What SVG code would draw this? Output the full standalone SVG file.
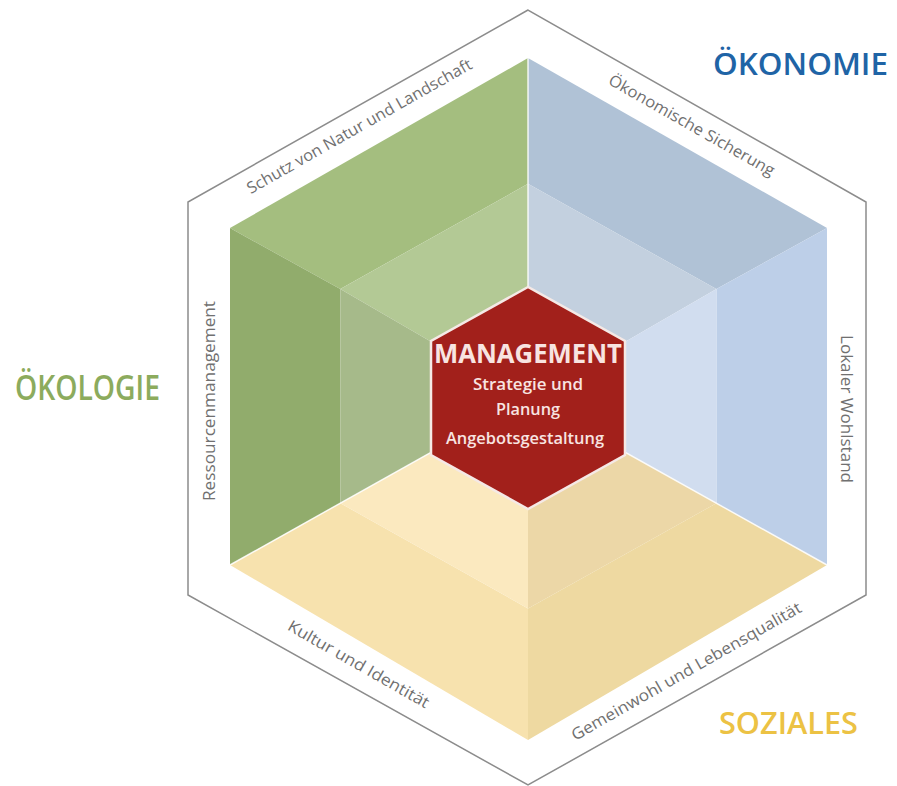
<svg xmlns="http://www.w3.org/2000/svg" width="897" height="786" viewBox="0 0 897 786">
<style>
.edge{font-family:"Open Sans","Noto Sans","Liberation Sans",sans-serif;font-size:16px;fill:#707070;text-anchor:middle}
.big{font-family:"Open Sans","Noto Sans","Liberation Sans",sans-serif;font-weight:600;font-size:35px}
.mg{font-family:"Open Sans","Noto Sans","Liberation Sans",sans-serif;fill:#f8e4e1;text-anchor:middle;font-weight:600}
.sep{stroke:#ffffff;stroke-width:1.5;fill:none;opacity:0.85}
</style>
<rect width="897" height="786" fill="#ffffff"/>
<g id="frame">
  <polygon points="528,10 188,202 188,595 528,785 866,595 866,202" fill="#ffffff" stroke="#8c8c8c" stroke-width="1.5"/>
</g>
<g id="oekologie-face">
  <polygon points="528,58 230,228 340.3,289 528,183.8" fill="#a4be7f"/>
  <polygon points="230,228 230,565 340.3,503.2 340.3,289" fill="#91ac6c"/>
  <polygon points="528,183.8 340.3,289 528,398" fill="#b3c995"/>
  <polygon points="340.3,289 340.3,503.2 528,398" fill="#a6ba8a"/>
</g>
<g id="oekonomie-face">
  <polygon points="528,58 528,183.8 716.4,289 827,228" fill="#b0c2d6"/>
  <polygon points="827,228 716.4,289 716.4,503.2 827,565" fill="#bdcfe8"/>
  <polygon points="528,183.8 528,398 716.4,289" fill="#c3d0df"/>
  <polygon points="716.4,289 528,398 716.4,503.2" fill="#d1ddef"/>
</g>
<g id="soziales-face">
  <polygon points="230,565 528,740 528,608.4 340.3,503.2" fill="#f7e2ae"/>
  <polygon points="528,398 340.3,503.2 528,608.4" fill="#fbe9bf"/>
  <polygon points="528,398 528,608.4 716.4,503.2" fill="#ecd7a7"/>
  <polygon points="528,608.4 528,740 827,565 716.4,503.2" fill="#eed9a1"/>
</g>
<g id="separators">
  <line class="sep" x1="528" y1="58" x2="528" y2="398"/>
  <line class="sep" x1="230" y1="565" x2="528" y2="398"/>
  <line class="sep" x1="827" y1="565" x2="528" y2="398"/>
</g>
<g id="edge-labels">
  <text class="edge" transform="translate(362,131) rotate(-29.6)" textLength="256" lengthAdjust="spacingAndGlyphs">Schutz von Natur und Landschaft</text>
  <text class="edge" transform="translate(689,130) rotate(29.6)" textLength="188" lengthAdjust="spacingAndGlyphs">Ökonomische Sicherung</text>
  <text class="edge" transform="translate(841,409) rotate(90)" textLength="148" lengthAdjust="spacingAndGlyphs">Lokaler Wohlstand</text>
  <text class="edge" transform="translate(215,401) rotate(-90)" textLength="200" lengthAdjust="spacingAndGlyphs">Ressourcenmanagement</text>
  <text class="edge" transform="translate(356,669) rotate(29.7)" textLength="160" lengthAdjust="spacingAndGlyphs">Kultur und Identität</text>
  <text class="edge" transform="translate(689,676) rotate(-29.7)" textLength="262" lengthAdjust="spacingAndGlyphs">Gemeinwohl und Lebensqualität</text>
</g>
<g id="management">
  <polygon points="528,287 431,341 431,455 528,509 625,455 625,341" fill="#a2201b" stroke="#f5e9e6" stroke-width="2.5"/>
  <text class="mg" x="528" y="363" font-size="26" font-weight="700" style="font-weight:700" textLength="188" lengthAdjust="spacingAndGlyphs">MANAGEMENT</text>
  <text class="mg" x="528" y="390" font-size="16" textLength="110" lengthAdjust="spacingAndGlyphs">Strategie und</text>
  <text class="mg" x="528" y="415" font-size="16" textLength="64" lengthAdjust="spacingAndGlyphs">Planung</text>
  <text class="mg" x="525" y="444" font-size="16" textLength="158" lengthAdjust="spacingAndGlyphs">Angebotsgestaltung</text>
</g>
<g id="dimension-labels">
  <text class="big" x="713" y="75" fill="#1f64a6" style="font-size:31px" textLength="175" lengthAdjust="spacingAndGlyphs">ÖKONOMIE</text>
  <text class="big" x="15" y="400" fill="#8cab5d" textLength="145" lengthAdjust="spacingAndGlyphs">ÖKOLOGIE</text>
  <text class="big" x="719" y="734" fill="#ecc244" style="font-size:31px" textLength="139" lengthAdjust="spacingAndGlyphs">SOZIALES</text>
</g>
</svg>
